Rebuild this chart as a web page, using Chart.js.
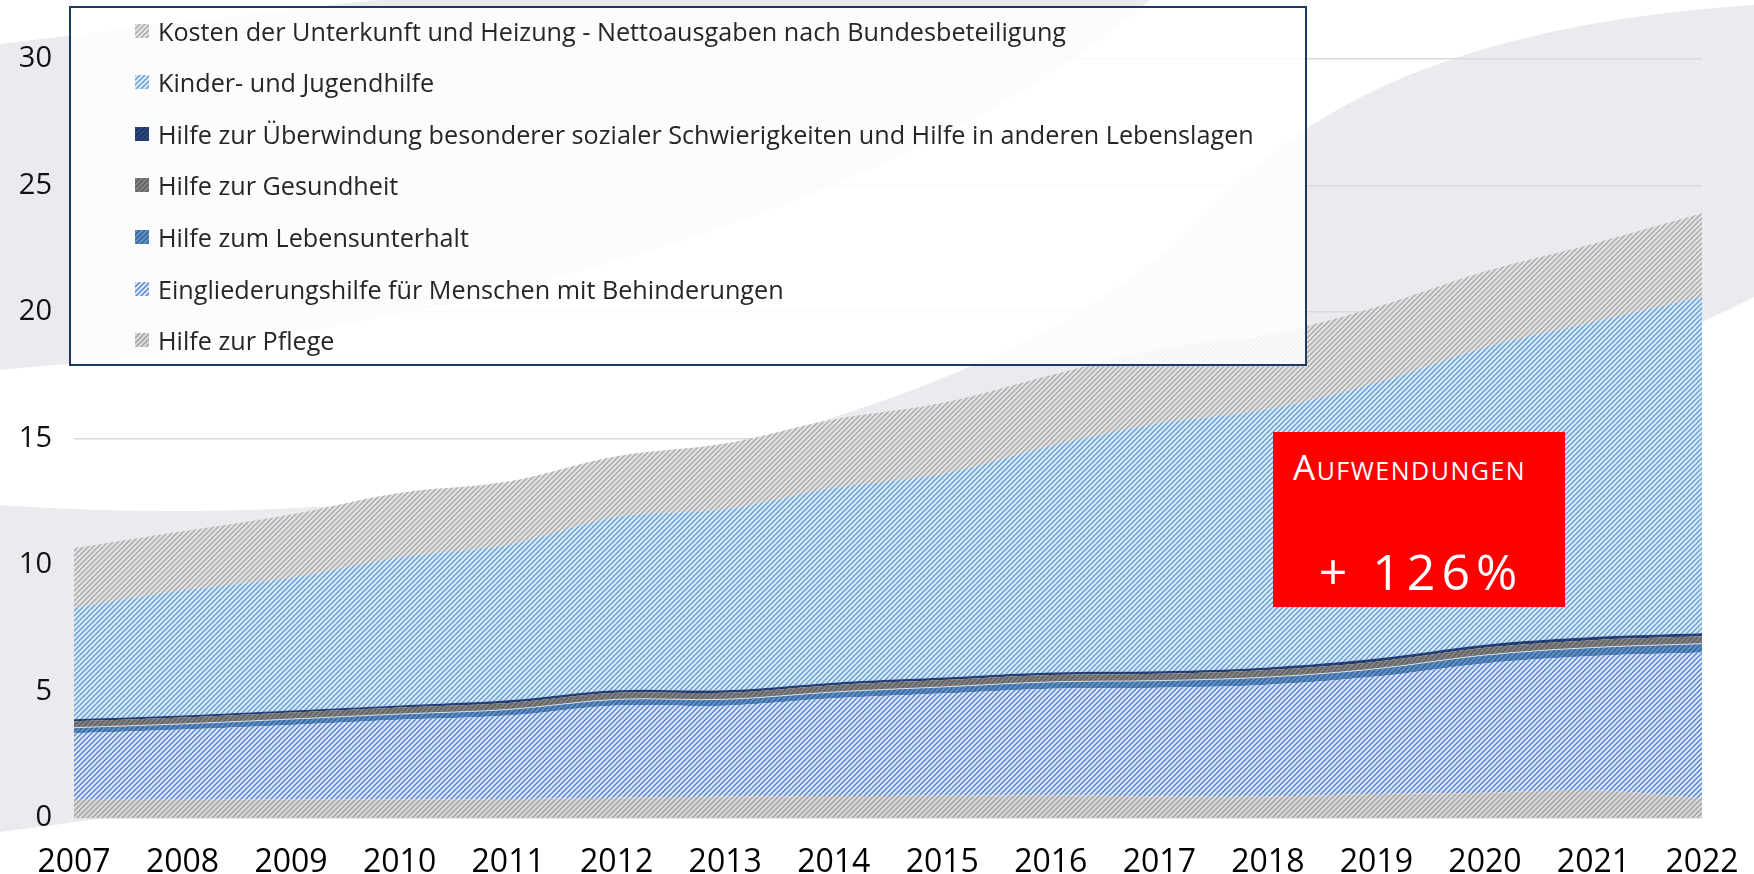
<!DOCTYPE html>
<html lang="de">
<head>
<meta charset="utf-8">
<title>Aufwendungen</title>
<script src="https://cdn.jsdelivr.net/npm/chart.js@4.4.1/dist/chart.umd.min.js"></script>
<style>
  html, body { margin: 0; padding: 0; background: #fff; }
  #wrap { position: relative; width: 1754px; height: 874px; overflow: hidden; font-family: 'Open Sans', sans-serif; }
  #chart { position: absolute; left: 0; top: 0; }
  #legend {
    position: absolute; left: 69px; top: 6px; width: 1234px; height: 356px;
    border: 2px solid #1f3864; background: rgba(255, 255, 255, 0.86);
  }
  .row { position: absolute; left: 0; height: 30px; display: flex; align-items: center; }
  .row canvas { margin-left: 64px; width: 14px; height: 14px; }
  .row span { margin-left: 9px; font-size: 25.2px; color: #262626; white-space: nowrap; }
  #badge { position: absolute; left: 1273px; top: 432px; width: 292px; height: 175px; background: #ff0000; color: #fff; }
  #badge .t1 { position: absolute; left: 20px; top: 17px; font-size: 35px; line-height: 1; font-variant: small-caps; letter-spacing: 1.5px; }
  #badge .t2 { position: absolute; left: 0; width: 100%; top: 114px; font-size: 50px; line-height: 1; text-align: center; letter-spacing: 6px; text-indent: 4px; }
</style>
</head>
<body>
<div id="wrap">
  <canvas id="chart" width="1754" height="874"></canvas>
  <div id="legend"></div>
  <div id="badge"><div class="t1">Aufwendungen</div><div class="t2">+ 126%</div></div>
</div>
<script>
// years on the x axis
const years = ['2007', '2008', '2009', '2010', '2011', '2012', '2013', '2014',
               '2015', '2016', '2017', '2018', '2019', '2020', '2021', '2022'];

// values in Mrd. Euro (bottom to top)
const pflege          = [0.72, 0.72, 0.73, 0.74, 0.75, 0.80, 0.85, 0.87, 0.88, 0.90, 0.85, 0.85, 0.95, 1.00, 1.10, 0.78];
const eingliederung   = [2.63, 2.78, 2.95, 3.14, 3.30, 3.65, 3.59, 3.86, 4.04, 4.21, 4.30, 4.42, 4.64, 5.11, 5.30, 5.76];
const lebensunterhalt = [0.22, 0.22, 0.23, 0.23, 0.24, 0.24, 0.25, 0.25, 0.26, 0.27, 0.28, 0.30, 0.31, 0.33, 0.34, 0.35];
const gesundheit      = [0.25, 0.25, 0.26, 0.26, 0.26, 0.26, 0.26, 0.27, 0.27, 0.27, 0.27, 0.28, 0.28, 0.29, 0.29, 0.29];
const ueberwindung    = [0.08, 0.08, 0.08, 0.08, 0.10, 0.10, 0.10, 0.10, 0.10, 0.10, 0.10, 0.10, 0.12, 0.12, 0.12, 0.12];
const kinder          = [4.40, 4.95, 5.25, 5.85, 6.15, 6.85, 7.15, 7.70, 8.05, 8.95, 9.80, 10.20, 10.90, 11.75, 12.45, 13.30];
const unterkunft      = [2.36, 2.33, 2.50, 2.55, 2.50, 2.40, 2.60, 2.70, 2.80, 2.80, 2.95, 2.95, 3.00, 3.00, 3.10, 3.30];

const yTicks = [0, 5, 10, 15, 20, 25, 30];

const canvas = document.getElementById('chart');
const ctx = canvas.getContext('2d');

// diagonal hatch like the office "wide upward diagonal" fill
function hatch(bg, fg, lw) {
    const s = 5;
    const c = document.createElement('canvas');
    c.width = s;
    c.height = s;
    const g = c.getContext('2d');
    g.fillStyle = bg;
    g.fillRect(0, 0, s, s);
    g.strokeStyle = fg;
    g.lineWidth = lw;
    g.beginPath();
    g.moveTo(-1, s + 1); g.lineTo(s + 1, -1);
    g.moveTo(-1, 1); g.lineTo(1, -1);
    g.moveTo(s - 1, s + 1); g.lineTo(s + 1, s - 1);
    g.stroke();
    return ctx.createPattern(c, 'repeat');
}

// light grey swooshes of the slide behind the chart
const slideBackground = {
    id: 'slideBackground',
    beforeDraw(chart) {
        const c = chart.ctx;
        const w = chart.width;
        c.save();
        c.fillStyle = '#ffffff';
        c.fillRect(0, 0, w, chart.height);
        c.fillStyle = '#ebebef';
        c.beginPath();
        c.moveTo(0, 44);
        c.bezierCurveTo(120, 30, 260, 12, 380, 0);
        c.lineTo(1150, 0);
        c.bezierCurveTo(980, 150, 600, 320, 0, 370);
        c.closePath();
        c.fill();
        c.beginPath();
        c.moveTo(0, 505);
        c.bezierCurveTo(500, 540, 1000, 420, 1200, 220);
        c.bezierCurveTo(1300, 110, 1450, 25, w, 5);
        c.lineTo(w, 297);
        c.bezierCurveTo(1300, 520, 600, 760, 0, 832);
        c.closePath();
        c.fill();
        c.restore();
    }
};

const areaStyle = { pointRadius: 0, borderWidth: 0, tension: 0.35, fill: '-1' };

const chart = new Chart(ctx, {
    type: 'line',
    data: {
        labels: years,
        datasets: [
            { ...areaStyle, label: 'Hilfe zur Pflege', data: pflege, fill: 'origin',
              backgroundColor: hatch('#dadada', '#a3a3a3', 1.5) },
            { ...areaStyle, label: 'Eingliederungshilfe für Menschen mit Behinderungen', data: eingliederung,
              backgroundColor: hatch('#dfe7f9', '#4f7fd6', 1.35) },
            { ...areaStyle, label: 'Hilfe zum Lebensunterhalt', data: lebensunterhalt,
              backgroundColor: hatch('#6593c6', '#36689f', 1.6),
              borderWidth: 1, borderColor: 'rgba(225, 228, 232, 0.9)' },
            { ...areaStyle, label: 'Hilfe zur Gesundheit', data: gesundheit,
              backgroundColor: hatch('#858585', '#626262', 1.6) },
            { ...areaStyle, label: 'Hilfe zur Überwindung besonderer sozialer Schwierigkeiten und Hilfe in anderen Lebenslagen', data: ueberwindung,
              backgroundColor: hatch('#2e4a85', '#1c3260', 1.6) },
            { ...areaStyle, label: 'Kinder- und Jugendhilfe', data: kinder,
              backgroundColor: hatch('#dcebf9', '#6aa0da', 1.55) },
            { ...areaStyle, label: 'Kosten der Unterkunft und Heizung - Nettoausgaben nach Bundesbeteiligung', data: unterkunft,
              backgroundColor: hatch('#e4e4e4', '#aaaaaa', 1.5) }
        ]
    },
    options: {
        responsive: false,
        animation: false,
        devicePixelRatio: 1,
        layout: { padding: { top: 59, right: 52, bottom: 0, left: 0 } },
        plugins: {
            legend: { display: false },
            tooltip: { enabled: false }
        },
        scales: {
            x: {
                type: 'category',
                offset: false,
                grid: { display: false, drawTicks: false },
                border: { display: false },
                ticks: {
                    font: { family: 'Open Sans', size: 32 },
                    color: '#000000',
                    padding: 26,
                    maxRotation: 0,
                    autoSkip: false
                },
                afterFit(scale) {
                    scale.height = 56;
                    // labels may hang over the plot edges, like in the slide
                    scale.paddingLeft = 0;
                    scale.paddingRight = 0;
                }
            },
            y: {
                stacked: true,
                min: 0,
                max: 30,
                afterBuildTicks(scale) { scale.ticks = yTicks.map(v => ({ value: v })); },
                grid: { color: '#d9d9d9', lineWidth: 1.5, drawTicks: false },
                border: { display: false },
                ticks: {
                    font: { family: 'Open Sans', size: 29 },
                    color: '#111111',
                    padding: 22
                },
                afterFit(scale) { scale.width = 74; }
            }
        }
    },
    plugins: [slideBackground]
});

// legend box drawn over the chart, listed top series first
const legendBox = document.getElementById('legend');
chart.data.datasets.slice().reverse().forEach((ds, i) => {
    const row = document.createElement('div');
    row.className = 'row';
    row.style.top = (7.5 + i * 51.6) + 'px';
    const mark = document.createElement('canvas');
    mark.width = 14;
    mark.height = 14;
    const mctx = mark.getContext('2d');
    mctx.fillStyle = ds.backgroundColor;
    mctx.fillRect(0, 0, 14, 14);
    const text = document.createElement('span');
    text.textContent = ds.label;
    row.appendChild(mark);
    row.appendChild(text);
    legendBox.appendChild(row);
});
</script>
</body>
</html>
